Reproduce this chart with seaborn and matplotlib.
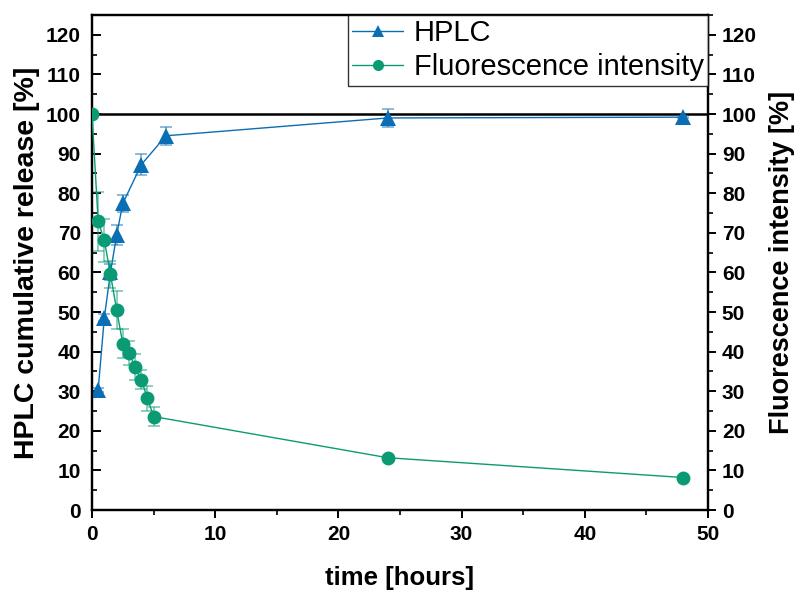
import numpy as np
import pandas as pd
import matplotlib
matplotlib.use("Agg")
import matplotlib.pyplot as plt
from matplotlib.ticker import MultipleLocator
import seaborn as sns

# HPLC cumulative release (time in hours, % released, SD)
hplc_time = [0.5, 1, 1.5, 2, 2.5, 4, 6, 24, 48]
hplc_value = [30.3, 48.6, 60.0, 69.4, 77.4, 87.2, 94.5, 99.0, 99.2]
hplc_err = [0.5, 0.8, 2.0, 2.5, 2.1, 2.7, 2.3, 2.3, 0.3]

# Fluorescence intensity (time in hours, % of initial, SD)
fl_time = [0, 0.5, 1, 1.5, 2, 2.5, 3, 3.5, 4, 4.5, 5, 24, 48]
fl_value = [100, 72.9, 68.1, 59.5, 50.5, 42.0, 39.7, 36.1, 32.9, 28.2, 23.6, 13.2, 8.2]
fl_err = [0, 7.5, 5.5, 3.5, 4.8, 3.6, 3.0, 3.2, 2.4, 3.2, 2.4, 0.5, 0.5]

x_ticks = [0, 10, 20, 30, 40, 50]
y_ticks = list(range(0, 121, 10))

blue = "#0A6EB4"
green = "#0B9B74"

sns.set_theme(style="white")
plt.rcParams["font.family"] = ["Liberation Sans", "DejaVu Sans"]
plt.rcParams["axes.linewidth"] = 1.6
plt.rcParams["text.color"] = "black"
plt.rcParams["axes.labelcolor"] = "black"
plt.rcParams["xtick.color"] = "black"
plt.rcParams["ytick.color"] = "black"

hplc_df = pd.DataFrame({"time": hplc_time, "value": hplc_value})
fl_df = pd.DataFrame({"time": fl_time, "value": fl_value})

fig = plt.figure(figsize=(7.95, 5.92), dpi=100)
ax = fig.add_axes([92 / 795, 82 / 592, 616 / 795, 495 / 592])
ax2 = ax.twinx()

# reference level at 100 %
ax.axhline(100, color="black", lw=1.8, zorder=1)

ax.errorbar(hplc_time, hplc_value, yerr=hplc_err, fmt="none", ecolor=blue,
            alpha=0.55, elinewidth=1.2, capsize=4.5, capthick=1.2, zorder=2)
ax2.errorbar(fl_time, fl_value, yerr=fl_err, fmt="none", ecolor=green,
             alpha=0.55, elinewidth=1.2, capsize=4.5, capthick=1.2, zorder=2)

sns.lineplot(data=hplc_df, x="time", y="value", ax=ax, color=blue, lw=1.0,
             marker="^", markersize=11, markeredgewidth=0, label="HPLC",
             legend=False, zorder=3)
sns.lineplot(data=fl_df, x="time", y="value", ax=ax2, color=green, lw=1.0,
             marker="o", markersize=10, markeredgewidth=0,
             label="Fluorescence intensity", legend=False, zorder=3)

for a in (ax, ax2):
    a.set_xlim(0, 50)
    a.set_ylim(0, 125)
    a.yaxis.set_major_locator(MultipleLocator(10))
    a.yaxis.set_minor_locator(MultipleLocator(5))
    for s in a.spines.values():
        s.set_linewidth(1.6)
        s.set_color("black")

ax.set_xticks(x_ticks)
ax.xaxis.set_minor_locator(MultipleLocator(5))
ax.set_yticks(y_ticks)
ax2.set_yticks(y_ticks)

fs_tick = 15
ax.tick_params(axis="x", which="major", direction="out", length=6, width=1.4,
               pad=5, labelsize=fs_tick, bottom=True)
ax.tick_params(axis="x", which="minor", direction="out", length=3.5, width=1.2, bottom=True)
ax.tick_params(axis="y", which="major", direction="in", length=6.5, width=1.4,
               pad=8, labelsize=fs_tick, left=True)
ax.tick_params(axis="y", which="minor", direction="in", length=3.5, width=1.2, left=True)
ax2.tick_params(axis="y", which="major", direction="out", length=6, width=1.4,
                pad=4, labelsize=fs_tick, right=True)
ax2.tick_params(axis="y", which="minor", direction="out", length=3.5, width=1.2, right=True)
for lab in ax.get_xticklabels() + ax.get_yticklabels() + ax2.get_yticklabels():
    lab.set_fontweight("bold")

ax.set_xlabel("time [hours]", fontsize=18.5, fontweight="bold", labelpad=16)
ax.set_ylabel("HPLC cumulative release [%]", fontsize=20.5, fontweight="bold", labelpad=4)
ax2.set_ylabel("Fluorescence intensity [%]", fontsize=19.5, fontweight="bold", labelpad=9)

h1, l1 = ax.get_legend_handles_labels()
h2, l2 = ax2.get_legend_handles_labels()
leg = ax2.legend(h1 + h2, l1 + l2, loc="upper right", fontsize=21,
                 frameon=True, fancybox=False, borderaxespad=0, borderpad=0.15,
                 handlelength=1.75, handletextpad=0.35, labelspacing=0.2,
                 markerscale=0.8)
leg.get_frame().set_edgecolor("black")
leg.get_frame().set_linewidth(1.0)

fig.savefig("out.png", dpi=100, facecolor="white")
